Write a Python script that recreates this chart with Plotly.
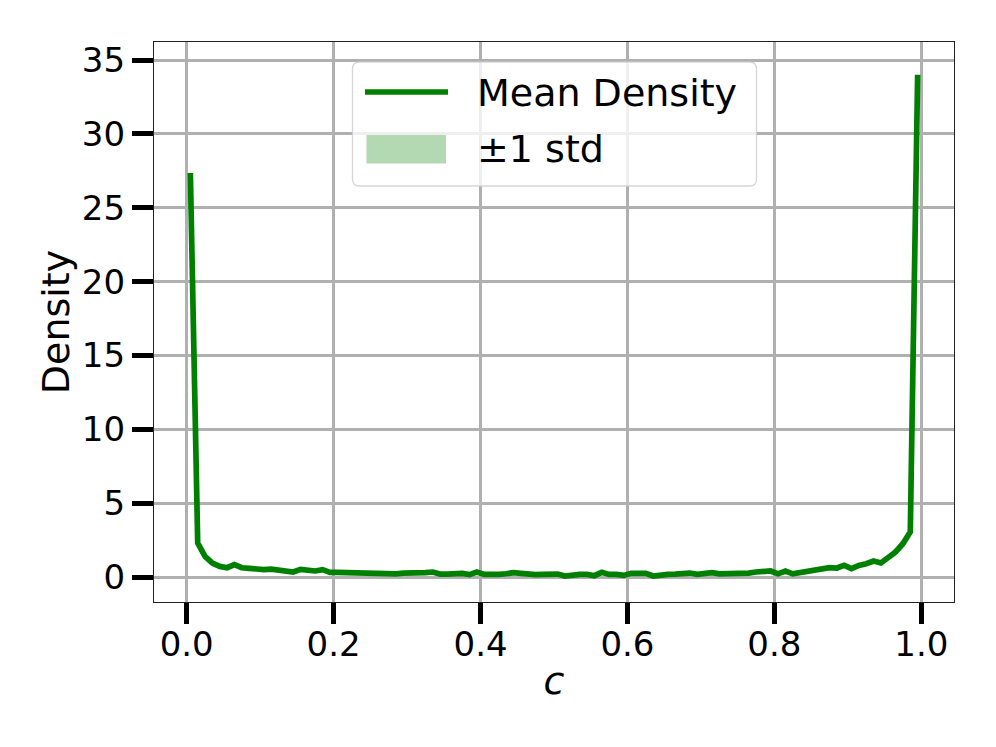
import numpy as np
import plotly.graph_objects as go

# bin centres of c
c_vals = [round(0.005 + 0.01 * i, 3) for i in range(100)]

mean_density = [
    27.35, 2.30, 1.40, 0.95, 0.72, 0.63, 0.84, 0.63, 0.59, 0.54,
    0.50, 0.54, 0.45, 0.38, 0.34, 0.52, 0.43, 0.41, 0.50, 0.32,
    0.32, 0.30, 0.27, 0.25, 0.27, 0.25, 0.25, 0.22, 0.22, 0.27,
    0.25, 0.27, 0.30, 0.34, 0.20, 0.20, 0.22, 0.25, 0.16, 0.34,
    0.18, 0.16, 0.18, 0.22, 0.30, 0.25, 0.16, 0.16, 0.18, 0.22,
    0.20, 0.07, 0.16, 0.18, 0.18, 0.09, 0.32, 0.18, 0.18, 0.11,
    0.25, 0.27, 0.25, 0.07, 0.16, 0.18, 0.20, 0.27, 0.27, 0.18,
    0.20, 0.30, 0.22, 0.22, 0.25, 0.25, 0.27, 0.34, 0.34, 0.41,
    0.22, 0.41, 0.22, 0.30, 0.41, 0.41, 0.57, 0.63, 0.61, 0.79,
    0.57, 0.79, 0.90, 1.08, 0.95, 1.31, 1.70, 2.26, 3.05, 34.0,
]

std_density = [
    0.85, 0.30, 0.15, 0.10, 0.08, 0.08, 0.08, 0.07, 0.07, 0.07,
    0.06, 0.06, 0.06, 0.06, 0.06, 0.06, 0.06, 0.06, 0.06, 0.06,
    0.05, 0.05, 0.05, 0.05, 0.05, 0.05, 0.05, 0.05, 0.05, 0.05,
    0.05, 0.05, 0.05, 0.05, 0.05, 0.05, 0.05, 0.05, 0.05, 0.05,
    0.05, 0.05, 0.05, 0.05, 0.05, 0.05, 0.05, 0.05, 0.05, 0.05,
    0.05, 0.05, 0.05, 0.05, 0.05, 0.05, 0.05, 0.05, 0.05, 0.05,
    0.05, 0.05, 0.05, 0.05, 0.05, 0.05, 0.05, 0.05, 0.05, 0.05,
    0.05, 0.05, 0.05, 0.05, 0.05, 0.05, 0.06, 0.06, 0.06, 0.07,
    0.07, 0.07, 0.07, 0.08, 0.08, 0.10, 0.12, 0.15, 0.12, 0.12,
    0.10, 0.12, 0.12, 0.12, 0.15, 0.20, 0.30, 0.35, 0.40, 0.60,
]

series_names = ["Mean Density", "±1 std"]
x_tick_vals = [0.0, 0.2, 0.4, 0.6, 0.8, 1.0]
x_tick_text = ["0.0", "0.2", "0.4", "0.6", "0.8", "1.0"]
y_tick_vals = [0, 5, 10, 15, 20, 25, 30, 35]
y_tick_text = ["0", "5", "10", "15", "20", "25", "30", "35"]

mean = np.array(mean_density)
std = np.array(std_density)
upper = mean + std
lower = mean - std

FONT = "DejaVu Sans"
W, H = 996, 747
ML, MR, MT, MB = 154, 42, 42, 145
LINE_GREEN = "#008000"
FILL_GREEN = "rgba(0,128,0,0.3)"


def px_x(p):
    return (p - ML) / (W - ML - MR)


def px_y(p):
    return (H - MB - p) / (H - MT - MB)


fig = go.Figure()
fig.add_trace(go.Scatter(
    x=c_vals + c_vals[::-1],
    y=list(upper) + list(lower[::-1]),
    fill="toself",
    fillcolor=FILL_GREEN,
    line=dict(width=0, color="rgba(0,128,0,0)"),
    mode="lines",
    name=series_names[1],
    showlegend=False,
    hoverinfo="skip",
))
fig.add_trace(go.Scatter(
    x=c_vals,
    y=mean_density,
    mode="lines",
    line=dict(color=LINE_GREEN, width=5.7),
    name=series_names[0],
    showlegend=False,
))

axis_common = dict(
    showgrid=True,
    gridcolor="#b0b0b0",
    gridwidth=2.6,
    zeroline=False,
    showline=True,
    linecolor="#222222",
    linewidth=1.3,
    mirror=True,
    ticks="outside",
    ticklen=21,
    tickwidth=4.6,
    tickcolor="black",
    tickfont=dict(family=FONT, size=34, color="black"),
)

# --- legend drawn as shapes/annotations (matplotlib-style box) ---
bx0, bx1, by0, by1 = 352.5, 756.5, 62, 186
r = 7
rx = r / (W - ML - MR)
ry = r / (H - MT - MB)
X0, X1 = px_x(bx0), px_x(bx1)
Y0, Y1 = px_y(by1), px_y(by0)  # bottom, top in paper
path = (
    f"M {X0 + rx},{Y0} L {X1 - rx},{Y0} Q {X1},{Y0} {X1},{Y0 + ry} "
    f"L {X1},{Y1 - ry} Q {X1},{Y1} {X1 - rx},{Y1} "
    f"L {X0 + rx},{Y1} Q {X0},{Y1} {X0},{Y1 - ry} "
    f"L {X0},{Y0 + ry} Q {X0},{Y0} {X0 + rx},{Y0} Z"
)
shapes = [
    dict(type="path", xref="paper", yref="paper", path=path,
         fillcolor="rgba(255,255,255,0.8)",
         line=dict(color="rgba(204,204,204,0.8)", width=1.3), layer="above"),
    dict(type="line", xref="paper", yref="paper",
         x0=px_x(365), x1=px_x(448), y0=px_y(92), y1=px_y(92),
         line=dict(color=LINE_GREEN, width=5.7), layer="above"),
    dict(type="rect", xref="paper", yref="paper",
         x0=px_x(366.5), x1=px_x(446), y0=px_y(163.5), y1=px_y(135),
         fillcolor=FILL_GREEN, line=dict(width=0), layer="above"),
]
annotations = [
    dict(xref="paper", yref="paper", x=px_x(475), y=px_y(93),
         text=series_names[0], showarrow=False, xanchor="left", yanchor="middle",
         font=dict(family=FONT, size=38, color="black")),
    dict(xref="paper", yref="paper", x=px_x(475), y=px_y(149),
         text=series_names[1], showarrow=False, xanchor="left", yanchor="middle",
         font=dict(family=FONT, size=38, color="black")),
]

fig.update_layout(
    width=W,
    height=H,
    autosize=False,
    margin=dict(l=ML, r=MR, t=MT, b=MB, autoexpand=False),
    paper_bgcolor="white",
    plot_bgcolor="white",
    font=dict(family=FONT, color="black"),
    xaxis=dict(
        axis_common,
        range=[-0.0445, 1.0445],
        tickvals=x_tick_vals,
        ticktext=x_tick_text,
        ticklabelstandoff=-9,
        title=dict(text="<i>c</i>", font=dict(family=FONT, size=38), standoff=4),
    ),
    yaxis=dict(
        axis_common,
        range=[-1.69, 36.22],
        tickvals=y_tick_vals,
        ticktext=y_tick_text,
        title=dict(text="Density", font=dict(family=FONT, size=38), standoff=0),
    ),
    shapes=shapes,
    annotations=annotations,
    showlegend=False,
)

fig.write_html(
    "out.html",
    config={"displayModeBar": False},
    post_script="document.body.style.margin='0';",
)
